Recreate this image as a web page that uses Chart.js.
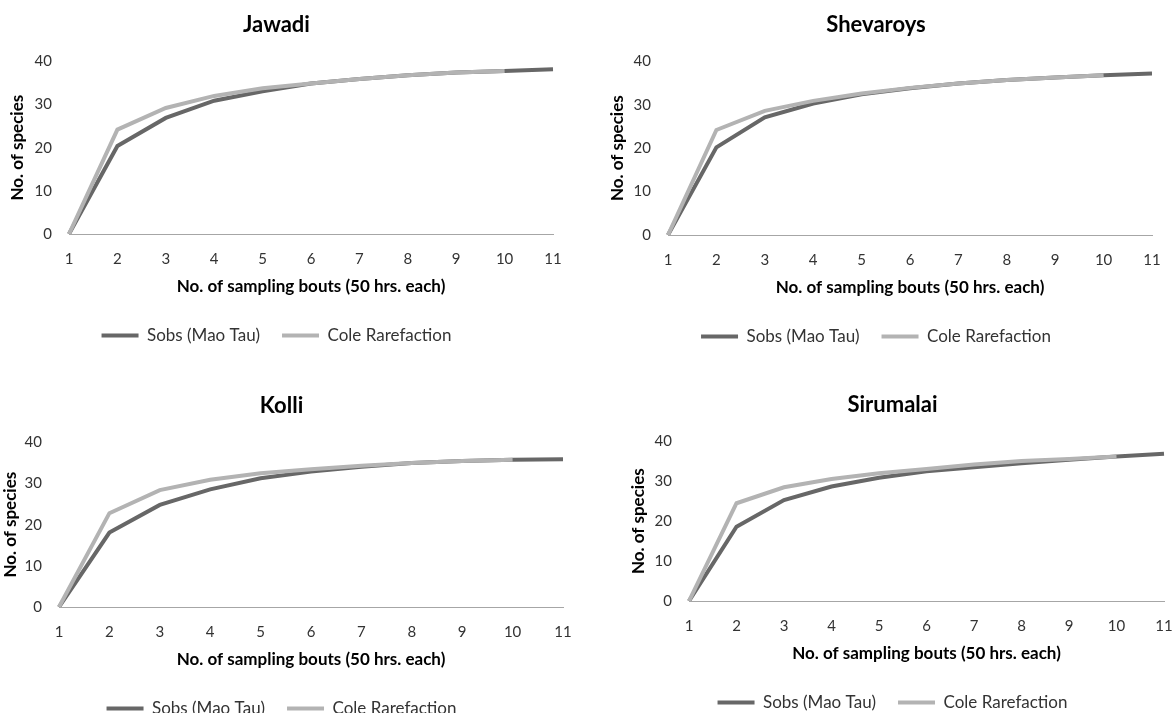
<!DOCTYPE html>
<html>
<head>
<meta charset="utf-8">
<script src="https://cdn.jsdelivr.net/npm/chart.js@4/dist/chart.umd.min.js"></script>
<style>
  html, body { margin: 0; padding: 0; background: #fff; overflow: hidden; }
  .box { position: absolute; }
</style>
</head>
<body>
<div class="box" id="b1"><canvas id="chart1"></canvas></div>
<div class="box" id="b2"><canvas id="chart2"></canvas></div>
<div class="box" id="b3"><canvas id="chart3"></canvas></div>
<div class="box" id="b4"><canvas id="chart4"></canvas></div>
<script>
// sampling bouts
const bouts = ['1', '2', '3', '4', '5', '6', '7', '8', '9', '10', '11'];
const yTicks = [0, 10, 20, 30, 40];

const jawadiSobs = [0, 20.4, 26.9, 30.9, 33.1, 34.9, 35.9, 36.8, 37.4, 37.8, 38.2];
const jawadiCole = [0, 24.2, 29.2, 32.0, 33.8, 34.9, 35.9, 36.8, 37.4, 37.8];

const shevaroysSobs = [0, 20.2, 27.1, 30.3, 32.4, 33.8, 34.9, 35.7, 36.3, 36.8, 37.2];
const shevaroysCole = [0, 24.2, 28.6, 30.9, 32.6, 33.9, 34.9, 35.7, 36.3, 36.8];

const kolliSobs = [0, 18.1, 24.8, 28.6, 31.3, 32.9, 34.1, 35.0, 35.5, 35.8, 35.9];
const kolliCole = [0, 22.8, 28.4, 30.9, 32.5, 33.5, 34.3, 35.0, 35.5, 35.8];

const sirumalaiSobs = [0, 18.6, 25.3, 28.7, 30.9, 32.5, 33.5, 34.5, 35.4, 36.2, 36.9];
const sirumalaiCole = [0, 24.5, 28.5, 30.6, 32.0, 33.1, 34.2, 35.1, 35.6, 36.2];

const FONT = 'Lato, "Open Sans", sans-serif';

let charts = [];

function crearGrafico(id, boxId, titulo, sobs, cole, lay) {
    const box = document.getElementById(boxId);
    box.style.left = lay.left + 'px';
    box.style.top = lay.top + 'px';
    box.style.width = lay.width + 'px';
    box.style.height = lay.height + 'px';

    const ctx = document.getElementById(id);
    const config = {
        type: 'line',
        data: {
            labels: bouts,
            datasets: [{
                label: 'Sobs (Mao Tau)',
                data: sobs,
                borderColor: '#676767',
                backgroundColor: '#676767',
                borderWidth: 4,
                pointRadius: 0,
                tension: 0,
                order: 2
            }, {
                label: 'Cole Rarefaction',
                data: cole,
                borderColor: '#b3b3b3',
                backgroundColor: '#b3b3b3',
                borderWidth: 4,
                pointRadius: 0,
                tension: 0,
                order: 1   // drawn over Sobs
            }]
        },
        options: {
            responsive: true,
            maintainAspectRatio: false,
            animation: false,
            layout: {
                padding: { left: 0, right: 26, top: 0, bottom: 2 }
            },
            plugins: {
                legend: {
                    position: 'bottom',
                    labels: {
                        usePointStyle: true,
                        pointStyle: 'line',
                        pointStyleWidth: 37,
                        boxHeight: 5,
                        color: '#333',
                        padding: 22,
                        font: { family: FONT, size: 17 },
                        sort: (a, b) => a.datasetIndex - b.datasetIndex
                    }
                },
                title: {
                    display: true,
                    text: titulo,
                    color: '#000',
                    padding: { top: 12, bottom: 23 },
                    font: { family: FONT, size: 22, weight: 'bold' }
                },
                tooltip: { enabled: false }
            },
            scales: {
                x: {
                    grid: { display: false, drawTicks: false },
                    border: { display: true, color: '#a6a6a6', width: 1 },
                    ticks: {
                        padding: 16,
                        color: '#333',
                        maxRotation: 0,
                        autoSkip: false,
                        font: { family: FONT, size: 15 }
                    },
                    title: {
                        display: true,
                        text: 'No. of sampling bouts (50 hrs. each)',
                        color: '#000',
                        padding: { top: 0, bottom: 8 },
                        font: { family: FONT, size: 17, weight: 'bold' }
                    },
                    afterFit: (s) => { s.height = 71; }
                },
                y: {
                    min: 0,
                    max: 40,
                    grid: { display: false, drawTicks: false },
                    border: { display: false },
                    afterBuildTicks: (s) => { s.ticks = yTicks.map(v => ({ value: v })); },
                    ticks: {
                        padding: 17,
                        color: '#333',
                        font: { family: FONT, size: 15 }
                    },
                    title: {
                        display: true,
                        text: 'No. of species',
                        color: '#000',
                        padding: { top: lay.yTitlePad, bottom: 0 },
                        font: { family: FONT, size: 17, weight: 'bold' }
                    },
                    afterFit: (s) => { s.width = lay.yw; }
                }
            }
        }
    };
    charts.push(new Chart(ctx, config));
}

crearGrafico('chart1', 'b1', 'Jawadi', jawadiSobs, jawadiCole,
    { left: 0, top: 0, width: 579, height: 356, yw: 69, yTitlePad: 7 });
crearGrafico('chart2', 'b2', 'Shevaroys', shevaroysSobs, shevaroysCole,
    { left: 600, top: 0, width: 578, height: 357, yw: 68, yTitlePad: 7 });
crearGrafico('chart3', 'b3', 'Kolli', kolliSobs, kolliCole,
    { left: 0, top: 381, width: 589, height: 348, yw: 59, yTitlePad: 0 });
crearGrafico('chart4', 'b4', 'Sirumalai', sirumalaiSobs, sirumalaiCole,
    { left: 621, top: 380, width: 569, height: 343, yw: 68, yTitlePad: 7 });
</script>
</body>
</html>
